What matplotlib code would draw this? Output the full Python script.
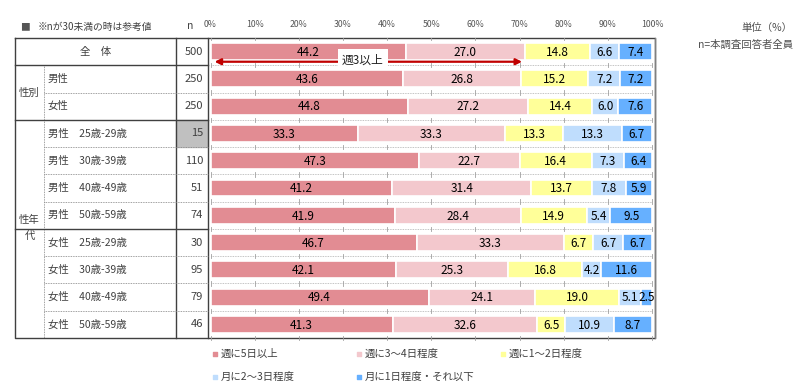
import numpy as np
import matplotlib.pyplot as plt

plt.rcParams['font.family'] = ['Noto Sans CJK JP', 'DejaVu Sans']

#~~~~~~Data~~~~~~
row_labels = ['全　体', '男性', '女性',
              '男性　25歳-29歳', '男性　30歳-39歳', '男性　40歳-49歳', '男性　50歳-59歳',
              '女性　25歳-29歳', '女性　30歳-39歳', '女性　40歳-49歳', '女性　50歳-59歳']
n_values = [500, 250, 250, 15, 110, 51, 74, 30, 95, 79, 46]

s1 = [44.2, 43.6, 44.8, 33.3, 47.3, 41.2, 41.9, 46.7, 42.1, 49.4, 41.3]
s2 = [27.0, 26.8, 27.2, 33.3, 22.7, 31.4, 28.4, 33.3, 25.3, 24.1, 32.6]
s3 = [14.8, 15.2, 14.4, 13.3, 16.4, 13.7, 14.9, 6.7, 16.8, 19.0, 6.5]
s4 = [6.6, 7.2, 6.0, 13.3, 7.3, 7.8, 5.4, 6.7, 4.2, 5.1, 10.9]
s5 = [7.4, 7.2, 7.6, 6.7, 6.4, 5.9, 9.5, 6.7, 11.6, 2.5, 8.7]
series = [s1, s2, s3, s4, s5]
series_names = ['週に5日以上', '週に3～4日程度', '週に1～2日程度',
                '月に2～3日程度', '月に1日程度・それ以下']
colors = ['#E28C93', '#F3C8CD', '#FFFF99', '#BFDDFD', '#66B0FF']
pct_ticks = np.arange(0, 101, 10)

#~~~~~~Layout (pixels)~~~~~~
W, H = 800, 391
top, bottom = 38, 338
x0, x100 = 210.5, 652
nrows = len(row_labels)
rh = (bottom - top) / nrows

fig = plt.figure(figsize=(W / 100, H / 100), dpi=100)

# overlay axes in pixel coords for table / texts
ov = fig.add_axes([0, 0, 1, 1])
ov.set_xlim(0, W)
ov.set_ylim(H, 0)
ov.axis('off')

# bar axes
ax = fig.add_axes([x0 / W, (H - bottom) / H, (x100 - x0) / W, (bottom - top) / H])
ax.set_xlim(0, 100)
ax.set_ylim(nrows, 0)
ax.axis('off')

ypos = np.arange(nrows) + 0.5
left = np.zeros(nrows)
for vals, c in zip(series, colors):
    vals = np.array(vals)
    ax.barh(ypos, vals, left=left, height=0.62, color=c, edgecolor='white', linewidth=1.2)
    for y, l, v in zip(ypos, left, vals):
        ax.text(l + v / 2, y + 0.03, f'{v:.1f}', ha='center', va='center', fontsize=8.5, color='#000000')
    left += vals

# row boundary guide lines with ticks in chart
for b in range(1, nrows + 1):
    ax.axhline(b, color='#B0B0B0', lw=0.6, ls=(0, (1, 1)), zorder=0)
    for t in pct_ticks:
        ax.plot([t, t], [b - 0.08, b + 0.08], color='#A0A0A0', lw=0.6, zorder=0, clip_on=False)
for t in pct_ticks:
    ax.plot([t, t], [0, 0.08], color='#A0A0A0', lw=0.6, zorder=0)
    ax.text(t, -0.48, f'{t}%', ha='center', va='center', fontsize=6.3, color='#555555', clip_on=False)

# arrow 週3以上
total3 = s1[0] + s2[0]
ax.annotate('', xy=(0.3, 0.87), xytext=(total3, 0.87),
            arrowprops=dict(arrowstyle='<|-|>', color='#C00000', lw=1.6, mutation_scale=9))
ax.text(34.5, 0.8, '週3以上', ha='center', va='center', fontsize=8.5, color='#222222',
        bbox=dict(boxstyle='square,pad=0.35', fc='white', ec='none'))

#~~~~~~Table~~~~~~
tl, c1, c2, c3, tr = 15, 44, 176, 208, 655
solid = dict(color='#404040', lw=1.0)
dashed = dict(color='#808080', lw=0.6, ls=(0, (1, 1)))

ov.add_patch(plt.Rectangle((c2, top + 3 * rh), c3 - c2, rh, color='#C0C0C0', zorder=0))

def ry(i):
    return top + i * rh

ov.plot([tl, tr, tr, tl, tl], [top, top, bottom, bottom, top], **solid)
ov.plot([c2, c2], [top, bottom], **solid)
ov.plot([c3, c3], [top, bottom], **solid)
ov.plot([c1, c1], [ry(1), bottom], **dashed)
ov.plot([tr, tr], [top, bottom], color='#808080', lw=1.0)
for i in [1, 3, 7]:
    ov.plot([tl, c3], [ry(i), ry(i)], **solid)
for i in [2, 4, 5, 6, 8, 9, 10]:
    ov.plot([c1, c3], [ry(i), ry(i)], **dashed)

txt = dict(fontsize=7.5, color='#404040', va='center')
ov.text((tl + c2) / 2, ry(0.5), row_labels[0], ha='center', **txt)
for i in range(1, nrows):
    ov.text(c1 + 4, ry(i + 0.5), row_labels[i], ha='left', **txt)
for i, n in enumerate(n_values):
    ov.text(c3 - 5, ry(i + 0.5), str(n), ha='right', fontsize=8, color='#404040', va='center')
ov.text((tl + c1) / 2, ry(2), '性別', ha='center', **txt)
ov.text((tl + c1) / 2, ry(7) - 1, '性年\n代', ha='center', linespacing=1.8, **txt)

# header
ov.text(20, 27, '■', fontsize=7, color='#555555', va='center', ha='left')
ov.text(38, 27, '※nが30未満の時は参考値', fontsize=7, color='#404040', va='center', ha='left')
ov.text(190, 26, 'n', fontsize=7.5, color='#404040', va='center', ha='center')
ov.text(792, 28, '単位（%）', fontsize=7.5, color='#505050', va='center', ha='right')
ov.text(793, 45, 'n=本調査回答者全員', fontsize=7.5, color='#505050', va='center', ha='right')

# legend
leg_pos = [(215, 354), (359, 354), (503, 354), (215, 377), (359, 377)]
for (lx, ly), name, c in zip(leg_pos, series_names, colors):
    ov.scatter([lx], [ly], marker='s', s=6, color=c)
    ov.text(lx + 6, ly, name, fontsize=7.5, color='#404040', va='center', ha='left')

fig.savefig('out.png', dpi=100)
